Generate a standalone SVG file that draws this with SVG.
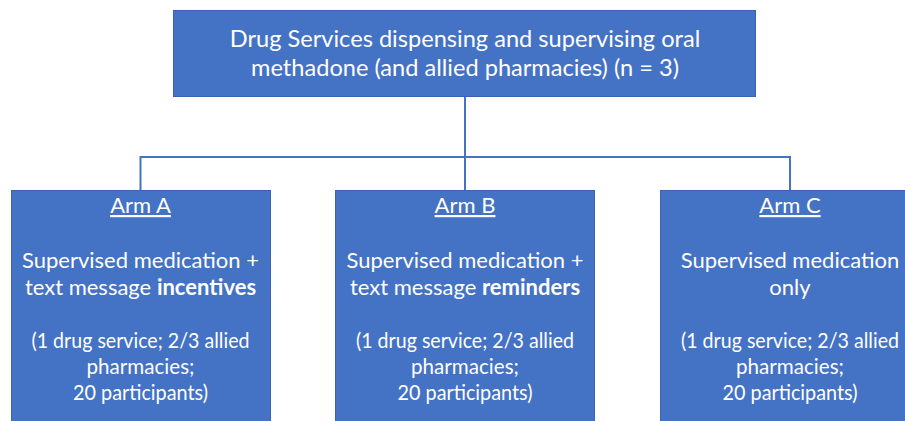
<svg xmlns="http://www.w3.org/2000/svg" width="905" height="421" viewBox="0 0 905 421">
<style>
.box{fill:#4472C4;stroke:#3A62AE;stroke-width:1}
.t{font-family:Lato,"Open Sans","Noto Sans",sans-serif;fill:#ffffff;text-anchor:middle}
.top{font-size:23.6px}
.arm{font-size:22px}
.u{text-decoration:underline}
.b{font-weight:bold}
.c{fill:none;stroke:#4472C4;stroke-width:2}
</style>
<rect width="905" height="421" fill="#ffffff"/>
<g id="connectors">
<path class="c" d="M465 97 V190"/>
<path class="c" d="M140.5 157 H790 M140.5 156 V190 M790 156 V190"/>
</g>
<g id="top">
<rect class="box" x="173.5" y="10.5" width="582" height="86"/>
<text class="t top" x="465" y="47">Drug Services dispensing and supervising oral</text>
<text class="t top" x="465" y="75.5">methadone (and allied pharmacies) (n = 3)</text>
</g>
<g id="armA">
<rect class="box" x="11.5" y="190.5" width="259" height="240"/>
<text class="t arm u" x="140.5" y="213">Arm A</text>
<text class="t arm" x="140.5" y="268">Supervised medication +</text>
<text class="t arm" x="140.5" y="295">text message <tspan class="b">incentives</tspan></text>
<text class="t arm" x="140.5" y="348" textLength="218" lengthAdjust="spacingAndGlyphs">(1 drug service; 2/3 allied</text>
<text class="t arm" x="140.5" y="374" textLength="108" lengthAdjust="spacingAndGlyphs">pharmacies;</text>
<text class="t arm" x="140.5" y="400" textLength="135" lengthAdjust="spacingAndGlyphs">20 participants)</text>
</g>
<g id="armB">
<rect class="box" x="335.5" y="190.5" width="259" height="240"/>
<text class="t arm u" x="465" y="213">Arm B</text>
<text class="t arm" x="465" y="268">Supervised medication +</text>
<text class="t arm" x="465" y="295">text message <tspan class="b">reminders</tspan></text>
<text class="t arm" x="465" y="348" textLength="218" lengthAdjust="spacingAndGlyphs">(1 drug service; 2/3 allied</text>
<text class="t arm" x="465" y="374" textLength="108" lengthAdjust="spacingAndGlyphs">pharmacies;</text>
<text class="t arm" x="465" y="400" textLength="135" lengthAdjust="spacingAndGlyphs">20 participants)</text>
</g>
<g id="armC">
<rect class="box" x="660.5" y="190.5" width="259" height="240"/>
<text class="t arm u" x="790" y="213">Arm C</text>
<text class="t arm" x="790" y="268">Supervised medication</text>
<text class="t arm" x="790" y="295">only</text>
<text class="t arm" x="790" y="348" textLength="218" lengthAdjust="spacingAndGlyphs">(1 drug service; 2/3 allied</text>
<text class="t arm" x="790" y="374" textLength="108" lengthAdjust="spacingAndGlyphs">pharmacies;</text>
<text class="t arm" x="790" y="400" textLength="135" lengthAdjust="spacingAndGlyphs">20 participants)</text>
</g>
</svg>
